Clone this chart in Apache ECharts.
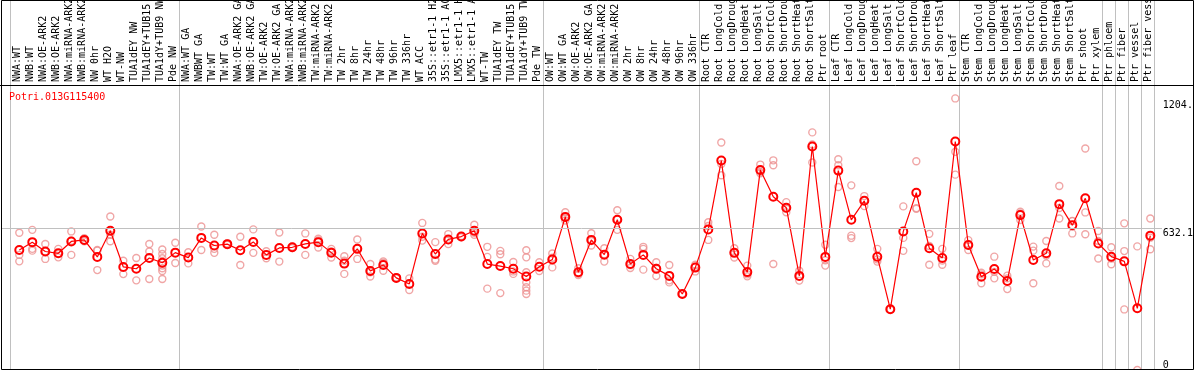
<!DOCTYPE html>
<html><head><meta charset="utf-8">
<script src="https://cdn.jsdelivr.net/npm/echarts@6/dist/echarts.min.js"></script>
<style>html,body{margin:0;padding:0;background:#fff}#c{width:1194px;height:370px}</style>
</head><body><div id="c"></div>
<script>
const geneName = 'Potri.013G115400';
const categories = [
  'NWA:WT','NWB:WT','NWA:OE-ARK2','NWB:OE-ARK2','NWA:miRNA-ARK2','NWB:miRNA-ARK2','NW 0hr','WT H2O','WT-NW','TUA1dEY NW','TUA1dEY+TUB15 NW','TUA1dY+TUB9 NW','Pde NW',
  'NWA:WT GA','NWBWT GA','TW:WT','TW:WT GA','NWA:OE-ARK2 GA','NWB:OE-ARK2 GA','TW:OE-ARK2','TW:OE-ARK2 GA','NWA:miRNA-ARK2','NWB:miRNA-ARK2','TW:miRNA-ARK2','TW:miRNA-ARK2','TW 2hr','TW 8hr','TW 24hr','TW 48hr','TW 96hr','TW 336hr','WT ACC','35S::etr1-1 H2O','35S::etr1-1 ACC','LMX5::etr1-1 H2O','LMX5::etr1-1 ACC','WT-TW','TUA1dEY TW','TUA1dEY+TUB15 TW','TUA1dY+TUB9 TW','Pde TW',
  'OW:WT','OW:WT GA','OW:OE-ARK2','OW:OE-ARK2 GA','OW:miRNA-ARK2','OW:miRNA-ARK2','OW 2hr','OW 8hr','OW 24hr','OW 48hr','OW 96hr','OW 336hr',
  'Root CTR','Root LongCold','Root LongDrought','Root LongHeat','Root LongSalt','Root ShortCold','Root ShortDrought','Root ShortHeat','Root ShortSalt','Ptr root',
  'Leaf CTR','Leaf LongCold','Leaf LongDrought','Leaf LongHeat','Leaf LongSalt','Leaf ShortCold','Leaf ShortDrought','Leaf ShortHeat','Leaf ShortSalt','Ptr leaf',
  'Stem CTR','Stem LongCold','Stem LongDrought','Stem LongHeat','Stem LongSalt','Stem ShortCold','Stem ShortDrought','Stem ShortHeat','Stem ShortSalt','Ptr shoot','Ptr xylem',
  'Ptr phloem','Ptr fiber','Ptr vessel','Ptr fiber vessel'
];
const groupStarts = [0, 13, 41, 53, 63, 73, 84, 85, 86, 87, 88];
const means = [
  537,572,530,522,575,582,506,623,461,453,501,480,525,
  503,591,557,563,536,573,515,546,549,564,572,525,476,542,443,470,412,385,611,519,584,597,623,474,465,453,418,462,
  494,685,437,582,516,672,474,515,453,421,340,458,
  629,937,524,438,895,775,726,421,1000,506,
  892,672,757,507,272,620,793,545,501,1022,
  559,417,452,398,693,492,522,742,648,768,566,
  507,486,276,601
];
const replicates = [
  [614,515,486],[627,542,534],[564,497,530],[542,504,522],[620,515,578],[590,580,576],[534,447,537],[687,576,605],[489,429],[501,401],[564,530,407],[539,519,500,467,455,443,407],[569,479],
  [527,477],[642,537],[605,524,542],[560,566],[596,470],[629,524],[531,500],[615,485],[552,546],[611,515],[587,548,580],[542,503,530],[509,430,489],[584,497,545],[474,418,437],[486,444,480],[412,410,414],[410,358],[658,579,596],[572,494,489],[608,563,581],[594,600],[650,605,614],[551,506,364],[533,344,518],[483,441,430],[536,504,437,392,370,355,340],[482,443],
  [521,459,502],[706,669,680],[455,425,431],[612,557,577],[545,485,518],[715,627,674],[497,456,469],[551,542,449],[482,420,457],[470,392,401],[340,340],[471,441,462],
  [661,582,644],[1018,871,922],[545,503,524],[467,419,428],[919,880,886],[938,916,474],[751,706,721],[444,400,419],[1063,928,1009],[560,467,491],
  [943,916,819],[826,601,590],[778,733,760],[542,485,495],[272,272],[732,591,533],[934,724,721],[609,471,555],[542,471,490],[1215,976,874],
  [581,537,559],[428,388,435],[507,410,439],[422,362,410],[708,671,700],[552,534,388],[577,477,512],[823,678,725],[666,611,667],[991,705,607],[622,499,577],
  [549,473,499],[656,532,271],[553,0],[678,592,540]
];
const yTickValues = [0, 632.1, 1204.2];
const midLineValue = 632.1;
const yMax = 1275;

const mono = 'DejaVu Sans Mono';
const repData = [];
replicates.forEach((arr, i) => arr.forEach(v => repData.push([i, v])));

const chart = echarts.init(document.getElementById('c'), null, {renderer: 'canvas'});
chart.setOption({
  animation: false,
  backgroundColor: '#fff',
  title: {
    text: geneName, left: 9, top: 92, padding: 0,
    textStyle: {color: '#ff0000', fontSize: 10, fontFamily: mono, fontWeight: 'normal'}
  },
  grid: [
    {left: 10.7, right: 39.3, top: 0, bottom: 0, outerBoundsMode: 'none', containLabel: false},
    {left: 12.8, right: 37.2, top: 85, bottom: 0, outerBoundsMode: 'none', containLabel: false},
    {left: 1, right: 32, top: 85, bottom: 0, outerBoundsMode: 'none', containLabel: false},
    {left: 10.7, right: 39.3, top: 85, bottom: 0, outerBoundsMode: 'none', containLabel: false}
  ],
  xAxis: [
    {
      type: 'category', gridIndex: 0, data: categories,
      axisLine: {show: false}, axisTick: {show: false}, axisLabel: {show: false},
      splitLine: {show: true, interval: (idx) => groupStarts.includes(idx), lineStyle: {color: '#c0c0c0', width: 1}}
    },
    {type: 'category', gridIndex: 1, data: categories, show: false},
    {type: 'value', gridIndex: 2, min: 0, max: 1, show: false},
    {
      type: 'category', gridIndex: 3, data: categories, position: 'top',
      axisLine: {show: false}, axisTick: {show: false}, splitLine: {show: false},
      axisLabel: {rotate: 90, interval: 0, fontSize: 10, fontFamily: mono, color: '#000', margin: 3, hideOverlap: false}
    }
  ],
  yAxis: [
    {type: 'value', gridIndex: 0, show: false},
    {
      type: 'value', gridIndex: 1, min: 0, max: yMax, position: 'right',
      axisLine: {show: false}, axisTick: {show: false}, splitLine: {show: false},
      axisLabel: {
        customValues: yTickValues, align: 'left', margin: 6, fontSize: 10, fontFamily: mono,
        color: '#000', verticalAlign: 'top', verticalAlignMinLabel: 'bottom',
        formatter: (v) => String(v)
      }
    },
    {type: 'value', gridIndex: 2, min: 0, max: yMax, show: false},
    {type: 'value', gridIndex: 3, show: false}
  ],
  graphic: [
    {type: 'rect', shape: {x: 1.5, y: 0.5, width: 1192, height: 369}, style: {fill: 'none', stroke: '#000', lineWidth: 1}, z: 100},
    {type: 'line', shape: {x1: 0, y1: 85.5, x2: 1194, y2: 85.5}, style: {stroke: '#000', lineWidth: 1}, z: 100}
  ],
  series: [
    {
      type: 'line', xAxisIndex: 2, yAxisIndex: 2, data: [], silent: true,
      markLine: {silent: true, symbol: 'none', label: {show: false},
        lineStyle: {color: '#c0c0c0', type: 'solid', width: 1},
        data: [{yAxis: midLineValue}]}
    },
    {
      type: 'scatter', xAxisIndex: 1, yAxisIndex: 1, data: repData, symbol: 'circle', symbolSize: 7,
      itemStyle: {color: 'rgba(0,0,0,0)', borderColor: '#ec9090', borderWidth: 1.4},
      emphasis: {disabled: true}, z: 2
    },
    {
      type: 'line', xAxisIndex: 1, yAxisIndex: 1, data: means, symbol: 'circle', symbolSize: 8,
      showAllSymbol: true,
      lineStyle: {color: '#ff0000', width: 1.2},
      itemStyle: {color: 'rgba(0,0,0,0)', borderColor: '#ff0000', borderWidth: 2},
      emphasis: {disabled: true}, z: 3
    }
  ]
});
</script>
</body></html>
